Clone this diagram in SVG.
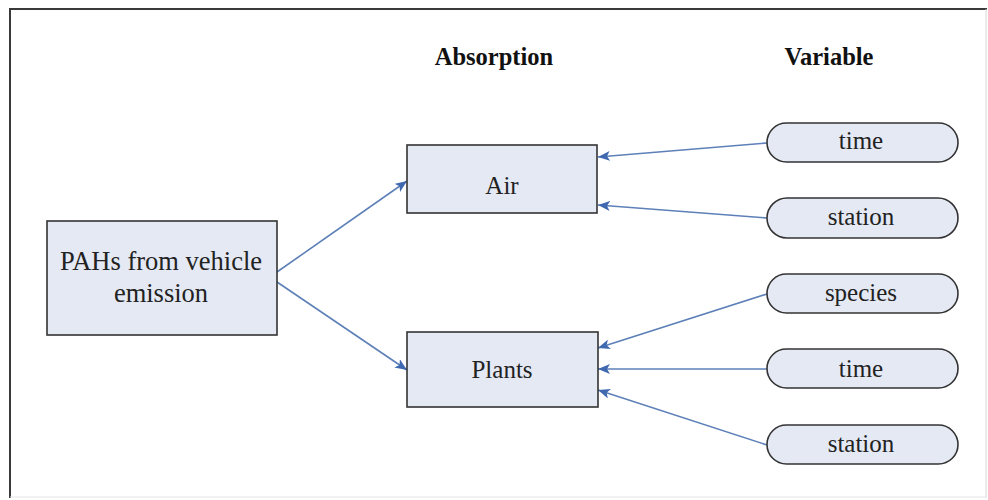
<svg xmlns="http://www.w3.org/2000/svg" width="988" height="500" viewBox="0 0 988 500">
<style>
.box{fill:#e4e9f4;stroke:#333;stroke-width:1.6}
.t{font-size:25px;fill:#222;text-anchor:middle}
.big{font-size:26.5px}
.h{font-size:24.5px;font-weight:bold;fill:#111;text-anchor:middle}
.c{stroke:#5d80b8;stroke-width:1.6;fill:none;marker-end:url(#ah)}
</style>
<defs>
<marker id="ah" viewBox="0 0 12 10" refX="12" refY="5" markerWidth="12" markerHeight="10" markerUnits="userSpaceOnUse" orient="auto">
<path d="M0,0 L12,5 L0,10 L3,5 Z" fill="#3f68b0"/>
</marker>
</defs>
<rect x="0" y="0" width="988" height="500" fill="#fff"/>
<g id="frame">
<line x1="10" y1="9" x2="987" y2="9" stroke="#3a3a3a" stroke-width="2"/>
<line x1="10" y1="8" x2="10" y2="498" stroke="#3a3a3a" stroke-width="2"/>
<line x1="986" y1="9" x2="986" y2="498" stroke="#d8d8d8" stroke-width="1"/>
<line x1="10" y1="497" x2="986" y2="497" stroke="#e4e4e4" stroke-width="1"/>
</g>
<g font-family="'Liberation Serif', 'Times New Roman', 'DejaVu Serif', serif">
<g id="headings">
<text class="h" x="494" y="65">Absorption</text>
<text class="h" x="829" y="65">Variable</text>
</g>
<g id="connectors">
<line class="c" x1="277" y1="272" x2="407" y2="181"/>
<line class="c" x1="277" y1="282" x2="407" y2="370"/>
<line class="c" x1="767" y1="143" x2="598" y2="157"/>
<line class="c" x1="767" y1="218" x2="598" y2="205"/>
<line class="c" x1="767" y1="294" x2="598" y2="348"/>
<line class="c" x1="767" y1="369" x2="598" y2="369"/>
<line class="c" x1="767" y1="445" x2="598" y2="390"/>
</g>
<g id="pahs">
<rect class="box" x="47" y="221" width="230" height="114"/>
<text class="t big" x="161" y="270">PAHs from vehicle</text>
<text class="t big" x="161" y="302">emission</text>
</g>
<g id="air">
<rect class="box" x="407" y="145" width="190" height="68"/>
<text class="t" x="502" y="194">Air</text>
</g>
<g id="plants">
<rect class="box" x="407" y="332" width="191" height="75"/>
<text class="t" x="502" y="378">Plants</text>
</g>
<g id="var-time-air">
<rect class="box" x="767" y="123" width="191" height="39" rx="19.5"/>
<text class="t" x="861" y="149">time</text>
</g>
<g id="var-station-air">
<rect class="box" x="767" y="198" width="191" height="40" rx="20"/>
<text class="t" x="861" y="225">station</text>
</g>
<g id="var-species">
<rect class="box" x="767" y="274" width="191" height="39" rx="19.5"/>
<text class="t" x="861" y="301">species</text>
</g>
<g id="var-time-plants">
<rect class="box" x="767" y="349" width="191" height="39" rx="19.5"/>
<text class="t" x="861" y="377">time</text>
</g>
<g id="var-station-plants">
<rect class="box" x="767" y="425" width="191" height="39" rx="19.5"/>
<text class="t" x="861" y="452">station</text>
</g>
</g>
</svg>
